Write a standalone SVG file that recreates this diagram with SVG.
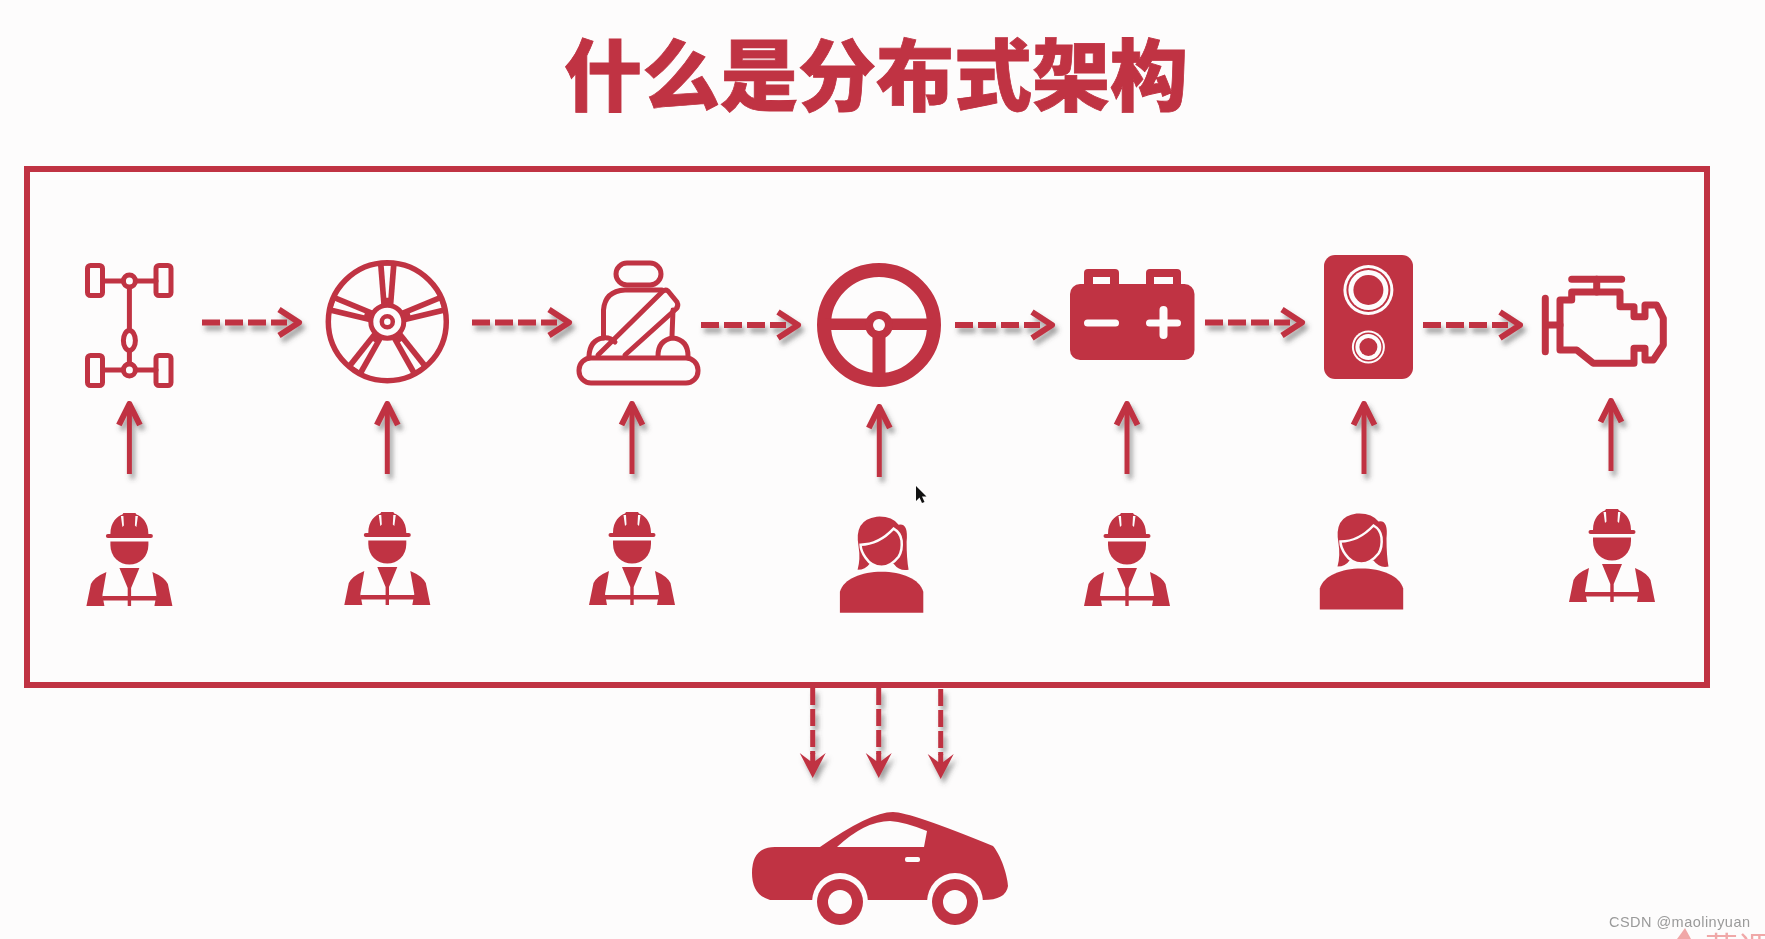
<svg xmlns="http://www.w3.org/2000/svg" xmlns:xlink="http://www.w3.org/1999/xlink" width="1765" height="939" viewBox="0 0 1765 939">
<style>
.f{fill:#c03343}
.w{fill:#fdfcfc}
.o{fill:none;stroke:#c03343;stroke-width:5;stroke-linecap:round;stroke-linejoin:round}
.d{fill:none;stroke:#c03343;stroke-width:6;stroke-dasharray:18 5}
.h{fill:none;stroke:#c03343;stroke-width:6}
.u{fill:none;stroke:#c03343;stroke-width:5}
.v{fill:none;stroke:#c03343;stroke-width:5;stroke-dasharray:17 4}
.title{font-family:"Noto Sans CJK SC",sans-serif;font-weight:900;font-size:78px;fill:#c03343;stroke:#c03343;stroke-width:.8}
.mark{font-family:"Liberation Sans",sans-serif;font-size:14.5px;fill:#9a9a9a}
.logo{font-family:"Noto Sans CJK SC",sans-serif;font-size:33px;fill:#f0a8a8}
</style>
<defs>
<filter id="sh" x="-40%" y="-40%" width="200%" height="200%"><feDropShadow dx="3" dy="5" stdDeviation="2.5" flood-color="#444" flood-opacity=".5"/></filter>
<g id="harr"><path class="d" d="M0 0H85"/><path class="h" stroke-linejoin="round" d="M77 -13L97 0L77 13"/></g>
<g id="uarr"><path class="u" d="M0 74V6"/><path class="h" stroke-linejoin="round" d="M-10.500 25L0 4L10.500 25"/></g>
<g id="darr"><path class="v" d="M0 0V66"/><path class="f" d="M-13 65L-2.500 73V65H2.500V73L13 65L0 90Z"/></g>
<g id="worker">
<path class="f" d="M-19 21C-19 9 -12 3 -7 1.500L-6 0H6L7 1.500C12 3 19 9 19 21H21.500Q23.500 21 23.500 23Q23.500 25 21.500 25H-21.500Q-23.500 25 -23.500 23Q-23.500 21 -21.500 21Z"/>
<path class="w" d="M-8.500 3L-7 14L-5.500 12.500L-6 3ZM8.500 3L7 14L5.500 12.500L6 3Z"/>
<path class="f" d="M-19 28.500H19V32C19 44 10 51.500 0 51.500C-10 51.500 -19 44 -19 32Z"/>
<path class="f" d="M-10 55H10L1.700 75V93H-1.700V75Z"/>
<path class="f" d="M-43 93L-38.500 71Q-35 64 -23 59L-27 82L-25 93Z"/>
<path class="f" d="M43 93L38.500 71Q35 64 23 59L27 82L25 93Z"/>
<rect class="f" x="-27" y="83" width="54" height="4.500"/>
</g>
<g id="woman">
<path class="f" d="M-41.700 96V75C-38 62 -20 55 0 55C20 55 38 62 41.700 75V96Z"/>
<path class="f" d="M-24 53Q-21 42 -23 30Q-28 3 -5 0Q10 -1 17 8Q27 6 25 25Q25 42 27 53Q18 55 12 47H-12Q-16 53 -24 53Z"/>
<path class="f" style="stroke:#fdfcfc;stroke-width:2.500" d="M-21 28Q-3 28 12 12Q19 16 20 24Q21 34 17 40Q9 50 0 50Q-10 50 -16 41Q-21 34 -21 28Z"/>
</g>
<g id="spoke">
<path class="f" d="M-6 -16L-9.500 -59H9.500L6 -16Z"/>
<path class="w" d="M-3.500 -56H3.500L1 -24H-1Z"/>
</g>
</defs>
<rect class="w" width="1765" height="939"/>
<text class="title" x="564" y="105">什么是分布式架构</text>
<g id="frame"><rect x="27" y="169" width="1680" height="516" fill="none" stroke="#c03343" stroke-width="6"/></g>

<g id="chassis" class="o">
<rect x="87.500" y="265.500" width="15" height="30" rx="3"/><rect x="156" y="265.500" width="15" height="30" rx="3"/>
<rect x="87.500" y="355.500" width="15" height="30" rx="3"/><rect x="156" y="355.500" width="15" height="30" rx="3"/>
<path d="M102.500 281H122M137 281H156M102.500 370H122M137 370H156M129.400 288V330M129.400 351V363"/>
<circle cx="129.400" cy="281" r="6"/><circle cx="129.400" cy="370" r="6"/><ellipse cx="129.400" cy="340.500" rx="6" ry="10"/>
</g>

<g id="wheel" transform="translate(387.300,321.700)">
<use href="#spoke"/><use href="#spoke" transform="rotate(72)"/><use href="#spoke" transform="rotate(-72)"/><use href="#spoke" transform="rotate(146)"/><use href="#spoke" transform="rotate(-146)"/>
<circle r="59" fill="none" stroke="#c03343" stroke-width="5.500"/>
<circle r="15" class="w"/>
<circle r="16.500" fill="none" stroke="#c03343" stroke-width="5"/>
<circle r="5.500" fill="none" stroke="#c03343" stroke-width="4.500"/>
</g>

<g id="seat" class="o">
<rect x="616" y="263" width="45" height="22" rx="11"/>
<path d="M603.500 338V310Q605 291 625 290H662M673 310L672 336"/>
<path d="M598 355L662 292Q665 289 668 291L677 302Q679 306 676 309L625 355"/>
<path d="M589 356Q590 340 603 338Q610 337 615 342M658 356Q658 340 673 338Q688 340 688 356"/>
<rect x="579" y="358" width="119" height="25" rx="12"/>
</g>

<g id="steering">
<circle cx="879" cy="325" r="55" fill="none" stroke="#c03343" stroke-width="14"/>
<rect class="f" x="825" y="318.500" width="108" height="11.500"/>
<rect class="f" x="872.500" y="325" width="13" height="50"/>
<circle class="f" cx="879" cy="325" r="14"/>
<circle class="w" cx="879" cy="325" r="6"/>
</g>

<g id="battery">
<rect class="f" x="1084" y="269" width="35" height="24" rx="4"/>
<rect class="f" x="1146" y="269" width="35" height="24" rx="4"/>
<rect class="w" x="1093" y="277" width="17" height="8"/>
<rect class="w" x="1154" y="277" width="19" height="8"/>
<rect class="f" x="1070" y="284" width="124.500" height="76" rx="10"/>
<rect class="w" x="1084" y="319.500" width="35" height="7" rx="3.500"/>
<rect class="w" x="1146" y="319.500" width="35" height="7" rx="3.500"/>
<rect class="w" x="1159.500" y="306" width="8" height="33" rx="4"/>
</g>

<g id="speaker">
<rect class="f" x="1324" y="255" width="89" height="124" rx="11"/>
<circle class="w" cx="1368.400" cy="290" r="25"/><circle class="f" cx="1368.400" cy="290" r="22"/><circle class="w" cx="1368.400" cy="290" r="20"/><circle class="f" cx="1368.400" cy="290" r="15"/>
<circle class="w" cx="1368.400" cy="347" r="16.500"/><circle class="f" cx="1368.400" cy="347" r="14.500"/><circle class="w" cx="1368.400" cy="347" r="13"/><circle class="f" cx="1368.400" cy="347" r="9"/>
</g>

<g id="engine" class="o" style="stroke-width:7">
<path d="M1571.700 279.300H1621.700M1596.700 279V292M1545.300 298.300V351.700M1545.300 325H1560"/>
<path d="M1571.700 292H1620V306.700H1634V316.700H1645V305H1656.700L1663.300 318.300V345L1653.300 360H1645V348.300H1634V363.300H1593.300L1576.700 350H1560V300H1571.700Z"/>
</g>

<g id="worker1"><use href="#worker" x="129.400" y="513"/></g>
<g id="worker2"><use href="#worker" x="387.300" y="512"/></g>
<g id="worker3"><use href="#worker" x="632" y="512"/></g>
<g id="woman1"><use href="#woman" x="881.600" y="516.700"/></g>
<g id="worker4"><use href="#worker" x="1127" y="513"/></g>
<g id="woman2"><use href="#woman" x="1361.500" y="513.500"/></g>
<g id="worker5"><use href="#worker" x="1612" y="509"/></g>

<g id="car">
<path class="f" d="M770 900Q752 895 752 873Q752 847 775 847H820Q870 812 893 812Q910 812 993 846C1003 858 1008 880 1008 886Q1006 900 983 900Z"/>
<path class="w" d="M837 847Q865 821 890 821Q905 822 927 831L924 847Z"/>
<rect class="w" x="905" y="857" width="15" height="5" rx="2"/>
<path class="w" d="M812 902a28 29 0 0 1 56 0V925H812Z"/>
<path class="w" d="M927 902a28 29 0 0 1 56 0V925H927Z"/>
<circle class="f" cx="840" cy="902" r="23"/><circle class="w" cx="840" cy="902" r="12"/>
<circle class="f" cx="955" cy="902" r="23"/><circle class="w" cx="955" cy="902" r="12"/>
</g>

<g id="connectors" filter="url(#sh)">
<use href="#harr" x="202" y="322.500"/>
<use href="#harr" x="472" y="322.500"/>
<use href="#harr" x="701" y="325"/>
<use href="#harr" x="955" y="325"/>
<use href="#harr" x="1205" y="322.500"/>
<use href="#harr" x="1423" y="325"/>
<use href="#uarr" x="129.400" y="400"/>
<use href="#uarr" x="387.300" y="400"/>
<use href="#uarr" x="632" y="400"/>
<use href="#uarr" x="879.300" y="403"/>
<use href="#uarr" x="1127" y="400"/>
<use href="#uarr" x="1364" y="400"/>
<use href="#uarr" x="1611" y="397"/>
<use href="#darr" x="812.700" y="688"/>
<use href="#darr" x="878.700" y="688"/>
<use href="#darr" x="940.700" y="689"/>
</g>

<path d="M916 486V501L919.500 497.500L922 503L924.500 502L922 496.500H926.500Z" fill="#111"/>
<path d="M1685 928L1677 939H1691Z" fill="#f0a8a8"/>
<text class="logo" x="1705" y="961">慕课</text>
<text class="mark" x="1609" y="927" textLength="141">CSDN @maolinyuan</text>
</svg>
